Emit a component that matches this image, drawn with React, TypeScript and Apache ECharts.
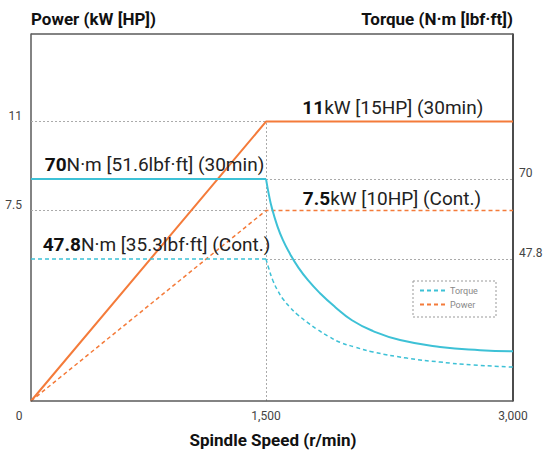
import React, { useEffect, useRef } from 'react';
import * as echarts from 'echarts';

const FONT = 'Roboto, "Noto Sans", "DejaVu Sans", sans-serif';
const ORANGE = '#F47B3A';
const CYAN = '#3DC1D6';
const GRIDLINE = '#AAAAAA';
const FRAME = '#5A5A5A';

// tick labels
const X_TICKS = [0, 1500, 3000];
const POWER_TICKS = [7.5, 11];
const TORQUE_TICKS = [47.8, 70];

// axis ranges
const X_MIN = 0;
const X_MAX = 3000;
const POWER_MAX = 14.45;
const TORQUE_MIN = 8.4;
const TORQUE_MAX = 110.2;

// key values
const RPM_START = 73;
const RPM_BASE = 1500;
const POWER_30MIN = 11;
const POWER_CONT = 7.5;
const TORQUE_30MIN = 70;
const TORQUE_CONT = 47.8;

// power series
const powerRpm = [RPM_START, 1500, 3000];
const power30min = [0, 11, 11];
const powerCont = [0, 7.5, 7.5];

// torque series (flat part)
const torqueFlatRpm = [RPM_START, 1500];
const torque30Flat = [70, 70];
const torqueContFlat = [47.8, 47.8];

// torque series (constant-power part)
const torque30CurveRpm = [1500, 1518, 1536, 1567, 1603, 1646, 1694, 1755, 1828, 1919, 2022, 2150, 2314, 2557, 2800, 3000];
const torque30CurveVal = [70, 65.5, 61.9, 57.2, 53.0, 49.2, 45.6, 41.9, 38.3, 34.5, 30.8, 27.8, 25.3, 23.4, 22.5, 22.2];
const torqueContCurveRpm = [1500, 1518, 1543, 1573, 1603, 1646, 1688, 1749, 1810, 1877, 1949, 2041, 2150, 2356, 2557, 2757, 3000];
const torqueContCurveVal = [47.8, 45.0, 41.7, 38.9, 36.7, 34.4, 32.5, 30.3, 28.3, 26.4, 24.7, 23.35, 22.0, 20.3, 19.2, 18.4, 17.8];

// annotations
const LABEL_30MIN_POWER_RPM = 2270;
const LABEL_CONT_POWER_RPM = 2265;
const LABEL_30MIN_TORQUE_RPM = 823;
const LABEL_CONT_TORQUE_RPM = 835;

const zip = (xs: number[], ys: number[]) => xs.map((x, i) => [x, ys[i]]);

const dotted = { color: GRIDLINE, width: 1, type: [2, 2] as number[] };
const dashType = [4, 3];

const annoRich = {
  b: { fontFamily: FONT, fontSize: 19, fontWeight: 'bold', color: '#111' },
  n: { fontFamily: FONT, fontSize: 19, color: '#222' },
};

const anno = (coord: number[], bold: string, rest: string, dy: number) => ({
  coord,
  symbol: 'circle',
  symbolSize: 0,
  label: {
    show: true,
    position: 'inside',
    offset: [0, dy],
    formatter: `{b|${bold}}{n|${rest}}`,
    rich: annoRich,
  },
});

export default function App() {
  const ref = useRef<HTMLDivElement>(null);

  useEffect(() => {
    if (!ref.current) return;
    const chart = echarts.init(ref.current, null, { renderer: 'svg' });
    const option: any = {
      animation: false,
      backgroundColor: '#ffffff',
      textStyle: { fontFamily: FONT },
      grid: { left: 19, right: 35, top: 34, bottom: 53, outerBoundsMode: 'none' },
      legend: {
        data: ['Torque', 'Power'],
        orient: 'vertical',
        left: 419,
        top: 286,
        padding: 0,
        itemWidth: 25,
        itemHeight: 10,
        itemGap: 5,
        itemStyle: { opacity: 0 },
        textStyle: { fontFamily: FONT, fontSize: 9, color: '#888' },
      },
      graphic: [
        {
          type: 'rect',
          shape: { x: 413, y: 281, width: 83, height: 36 },
          style: { fill: 'none', stroke: '#999', lineWidth: 1, lineDash: [2, 2] },
          silent: true,
        },
      ],
      xAxis: {
        type: 'value',
        min: X_MIN,
        max: X_MAX,
        interval: 1500,
        name: 'Spindle Speed (r/min)',
        nameLocation: 'middle',
        nameGap: 30,
        nameTextStyle: { fontFamily: FONT, fontSize: 17, fontWeight: 'bold', color: '#111', padding: [0, 0, 0, 14] },
        axisLine: { show: false },
        axisTick: { show: false },
        splitLine: { show: false },
        axisLabel: {
          show: true,
          margin: 9,
          fontSize: 12,
          color: '#444',
          fontFamily: FONT,
          showMinLabel: true,
          showMaxLabel: true,
          customValues: X_TICKS,
          formatter: (v: number) => v.toLocaleString('en-US'),
        },
      },
      yAxis: [
        {
          type: 'value',
          position: 'left',
          min: 0,
          max: POWER_MAX,
          offset: -12,
          name: 'Power (kW [HP])',
          nameLocation: 'end',
          nameGap: 15,
          nameTextStyle: { fontFamily: FONT, fontSize: 17, fontWeight: 'bold', color: '#111', align: 'left', verticalAlign: 'middle' },
          axisLine: { show: true, lineStyle: { color: FRAME, width: 1.5 } },
          axisTick: { show: false },
          splitLine: { show: false },
          axisLabel: {
            show: true,
            customValues: POWER_TICKS,
            margin: 9,
            fontSize: 12,
            color: '#444',
            fontFamily: FONT,
            verticalAlign: 'bottom',
          },
        },
        {
          type: 'value',
          position: 'right',
          min: TORQUE_MIN,
          max: TORQUE_MAX,
          name: 'Torque (N·m [lbf·ft])',
          nameLocation: 'end',
          nameGap: 15,
          nameTextStyle: { fontFamily: FONT, fontSize: 17, fontWeight: 'bold', color: '#111', align: 'right', verticalAlign: 'middle' },
          axisLine: { show: true, lineStyle: { color: '#111', width: 1.5 } },
          axisTick: { show: false },
          splitLine: { show: false },
          axisLabel: {
            show: true,
            customValues: TORQUE_TICKS,
            margin: 6,
            fontSize: 12,
            color: '#444',
            fontFamily: FONT,
            verticalAlign: 'bottom',
          },
        },
      ],
      series: [
        {
          name: 'frame',
          type: 'line',
          yAxisIndex: 0,
          data: [],
          silent: true,
          clip: false,
          markLine: {
            silent: true,
            symbol: 'none',
            label: { show: false },
            lineStyle: { color: FRAME, width: 1.5, type: 'solid' },
            data: [
              [{ coord: [RPM_START, POWER_MAX] }, { coord: [X_MAX, POWER_MAX] }],
              [{ coord: [RPM_START, 0] }, { coord: [X_MAX, 0] }],
            ],
          },
        },
        {
          name: 'Power 30min',
          type: 'line',
          yAxisIndex: 0,
          z: 4,
          showSymbol: false,
          symbol: 'none',
          lineStyle: { color: ORANGE, width: 2 },
          itemStyle: { color: ORANGE },
          data: zip(powerRpm, power30min),
          markLine: {
            silent: true,
            symbol: 'none',
            z: 1,
            label: { show: false },
            lineStyle: dotted,
            data: [
              [{ coord: [RPM_START, POWER_30MIN] }, { coord: [RPM_BASE, POWER_30MIN] }],
              [{ coord: [RPM_START, POWER_CONT] }, { coord: [RPM_BASE, POWER_CONT] }],
              [{ coord: [RPM_BASE, 0] }, { coord: [RPM_BASE, POWER_30MIN] }],
            ],
          },
          markPoint: {
            silent: true,
            data: [
              anno([LABEL_30MIN_POWER_RPM, POWER_30MIN], String(POWER_30MIN), 'kW [15HP] (30min)', -14),
              anno([LABEL_CONT_POWER_RPM, POWER_CONT], String(POWER_CONT), 'kW [10HP] (Cont.)', -12),
            ],
          },
        },
        {
          name: 'Power',
          type: 'line',
          yAxisIndex: 0,
          z: 4,
          showSymbol: false,
          symbol: 'none',
          lineStyle: { color: ORANGE, width: 1.5, type: dashType },
          itemStyle: { color: ORANGE },
          data: zip(powerRpm, powerCont),
        },
        {
          name: 'Torque 30min',
          type: 'line',
          yAxisIndex: 1,
          z: 4,
          showSymbol: false,
          symbol: 'none',
          lineStyle: { color: CYAN, width: 2 },
          itemStyle: { color: CYAN },
          data: zip(torqueFlatRpm, torque30Flat),
          markPoint: {
            silent: true,
            data: [
              anno([LABEL_30MIN_TORQUE_RPM, TORQUE_30MIN], String(TORQUE_30MIN), 'N·m [51.6lbf·ft] (30min)', -14),
              anno([LABEL_CONT_TORQUE_RPM, TORQUE_CONT], String(TORQUE_CONT), 'N·m [35.3lbf·ft] (Cont.)', -14),
            ],
          },
        },
        {
          name: 'Torque 30min',
          type: 'line',
          yAxisIndex: 1,
          z: 4,
          showSymbol: false,
          symbol: 'none',
          smooth: 0.5,
          lineStyle: { color: CYAN, width: 2 },
          itemStyle: { color: CYAN },
          data: zip(torque30CurveRpm, torque30CurveVal),
        },
        {
          name: 'Torque',
          type: 'line',
          yAxisIndex: 1,
          z: 4,
          showSymbol: false,
          symbol: 'none',
          lineStyle: { color: CYAN, width: 1.5, type: dashType },
          itemStyle: { color: CYAN },
          data: zip(torqueFlatRpm, torqueContFlat),
          markLine: {
            silent: true,
            symbol: 'none',
            z: 1,
            label: { show: false },
            lineStyle: dotted,
            data: [
              [{ coord: [RPM_BASE, TORQUE_30MIN] }, { coord: [X_MAX, TORQUE_30MIN] }],
              [{ coord: [RPM_BASE, TORQUE_CONT] }, { coord: [X_MAX, TORQUE_CONT] }],
            ],
          },
        },
        {
          name: 'Torque',
          type: 'line',
          yAxisIndex: 1,
          z: 4,
          showSymbol: false,
          symbol: 'none',
          smooth: 0.5,
          lineStyle: { color: CYAN, width: 1.5, type: dashType },
          itemStyle: { color: CYAN },
          data: zip(torqueContCurveRpm, torqueContCurveVal),
        },
      ],
    };
    chart.setOption(option);
    return () => chart.dispose();
  }, []);

  return (
    <div
      ref={ref}
      style={{ position: 'absolute', left: 0, top: 0, width: 548, height: 454, background: '#fff' }}
    />
  );
}
